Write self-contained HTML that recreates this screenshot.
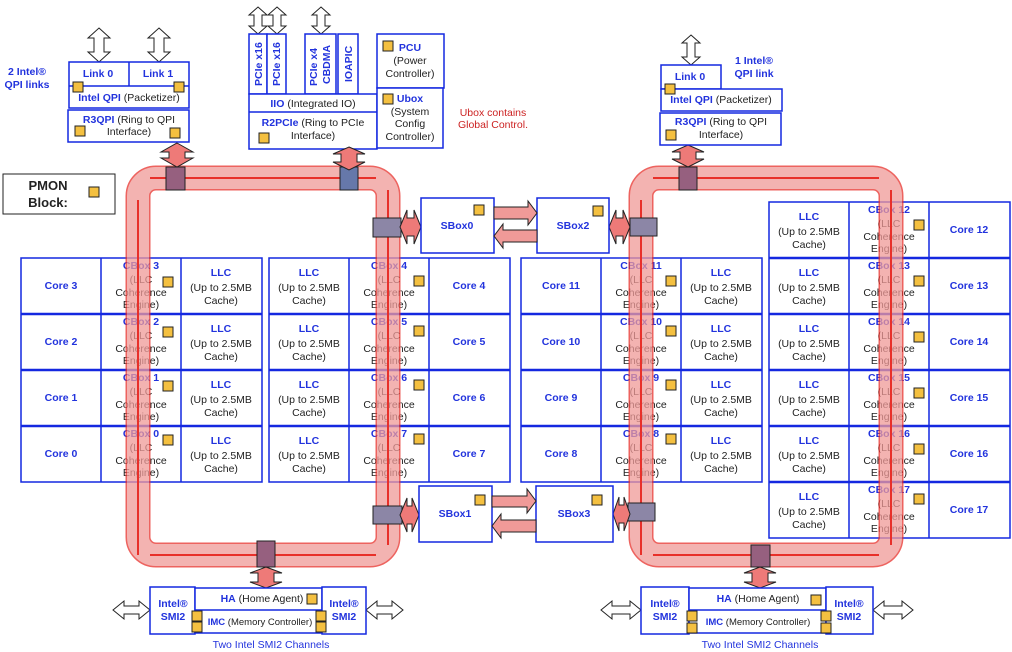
<!DOCTYPE html>
<html><head><meta charset="utf-8"><style>
html,body{margin:0;padding:0;background:#fff;width:1012px;height:652px;overflow:hidden}
svg text{font-family:"Liberation Sans",Arial,sans-serif;font-size:10.5px;fill:#222}
.b{fill:#2233dd;font-weight:bold}
.bl{fill:#2233dd}
.bx{fill:#fff;stroke:#1428e0;stroke-width:1.5}
.ln{stroke:#1428e0;stroke-width:1.5}
.thk{stroke:#1428e0;stroke-width:2.5}
.sq{fill:#f4c040;stroke:#222;stroke-width:1}
.ha{fill:#fff;stroke:#222;stroke-width:1}
.ra{fill:#ee7a78;stroke:#222;stroke-width:1}
.rs{fill:#96607f;stroke:#222;stroke-width:1}
.bs{fill:#6678aa;stroke:#222;stroke-width:1}
.gs{fill:#8c86a6;stroke:#222;stroke-width:1}
.sm{font-size:9.5px}
</style></head><body>
<svg width="1012" height="652" viewBox="0 0 1012 652" xmlns="http://www.w3.org/2000/svg">
<g text-anchor="middle">
<rect class="bx" x="21" y="258" width="241" height="224"/>
<line class="ln" x1="101" y1="258" x2="101" y2="482"/><line class="ln" x1="181" y1="258" x2="181" y2="482"/>
<line class="thk" x1="21" y1="314" x2="262" y2="314"/><line class="thk" x1="21" y1="370" x2="262" y2="370"/><line class="thk" x1="21" y1="426" x2="262" y2="426"/>
<rect class="bx" x="269" y="258" width="241" height="224"/>
<line class="ln" x1="349" y1="258" x2="349" y2="482"/><line class="ln" x1="429" y1="258" x2="429" y2="482"/>
<line class="thk" x1="269" y1="314" x2="510" y2="314"/><line class="thk" x1="269" y1="370" x2="510" y2="370"/><line class="thk" x1="269" y1="426" x2="510" y2="426"/>
<rect class="bx" x="521" y="258" width="241" height="224"/>
<line class="ln" x1="601" y1="258" x2="601" y2="482"/><line class="ln" x1="681" y1="258" x2="681" y2="482"/>
<line class="thk" x1="521" y1="314" x2="762" y2="314"/><line class="thk" x1="521" y1="370" x2="762" y2="370"/><line class="thk" x1="521" y1="426" x2="762" y2="426"/>
<rect class="bx" x="769" y="202" width="241" height="336"/>
<line class="ln" x1="849" y1="202" x2="849" y2="538"/><line class="ln" x1="929" y1="202" x2="929" y2="538"/>
<line class="thk" x1="769" y1="258" x2="1010" y2="258"/><line class="thk" x1="769" y1="314" x2="1010" y2="314"/><line class="thk" x1="769" y1="370" x2="1010" y2="370"/><line class="thk" x1="769" y1="426" x2="1010" y2="426"/><line class="thk" x1="769" y1="482" x2="1010" y2="482"/>

<g>
<text class="b" x="61" y="289">Core 3</text><text class="b" x="141" y="269">CBox 3</text><text x="141" y="283">(LLC</text><text x="141" y="296">Coherence</text><text x="141" y="308">Engine)</text><text class="b" x="221" y="276">LLC</text><text x="221" y="291">(Up to 2.5MB</text><text x="221" y="304">Cache)</text><rect class="sq" x="163" y="277" width="10" height="10"/>
<text class="b" x="61" y="345">Core 2</text><text class="b" x="141" y="325">CBox 2</text><text x="141" y="339">(LLC</text><text x="141" y="352">Coherence</text><text x="141" y="364">Engine)</text><text class="b" x="221" y="332">LLC</text><text x="221" y="347">(Up to 2.5MB</text><text x="221" y="360">Cache)</text><rect class="sq" x="163" y="327" width="10" height="10"/>
<text class="b" x="61" y="401">Core 1</text><text class="b" x="141" y="381">CBox 1</text><text x="141" y="395">(LLC</text><text x="141" y="408">Coherence</text><text x="141" y="420">Engine)</text><text class="b" x="221" y="388">LLC</text><text x="221" y="403">(Up to 2.5MB</text><text x="221" y="416">Cache)</text><rect class="sq" x="163" y="381" width="10" height="10"/>
<text class="b" x="61" y="457">Core 0</text><text class="b" x="141" y="437">CBox 0</text><text x="141" y="451">(LLC</text><text x="141" y="464">Coherence</text><text x="141" y="476">Engine)</text><text class="b" x="221" y="444">LLC</text><text x="221" y="459">(Up to 2.5MB</text><text x="221" y="472">Cache)</text><rect class="sq" x="163" y="435" width="10" height="10"/>
</g>
<g>
<text class="b" x="469" y="289">Core 4</text><text class="b" x="389" y="269">CBox 4</text><text x="389" y="283">(LLC</text><text x="389" y="296">Coherence</text><text x="389" y="308">Engine)</text><text class="b" x="309" y="276">LLC</text><text x="309" y="291">(Up to 2.5MB</text><text x="309" y="304">Cache)</text><rect class="sq" x="414" y="276" width="10" height="10"/>
<text class="b" x="469" y="345">Core 5</text><text class="b" x="389" y="325">CBox 5</text><text x="389" y="339">(LLC</text><text x="389" y="352">Coherence</text><text x="389" y="364">Engine)</text><text class="b" x="309" y="332">LLC</text><text x="309" y="347">(Up to 2.5MB</text><text x="309" y="360">Cache)</text><rect class="sq" x="414" y="326" width="10" height="10"/>
<text class="b" x="469" y="401">Core 6</text><text class="b" x="389" y="381">CBox 6</text><text x="389" y="395">(LLC</text><text x="389" y="408">Coherence</text><text x="389" y="420">Engine)</text><text class="b" x="309" y="388">LLC</text><text x="309" y="403">(Up to 2.5MB</text><text x="309" y="416">Cache)</text><rect class="sq" x="414" y="380" width="10" height="10"/>
<text class="b" x="469" y="457">Core 7</text><text class="b" x="389" y="437">CBox 7</text><text x="389" y="451">(LLC</text><text x="389" y="464">Coherence</text><text x="389" y="476">Engine)</text><text class="b" x="309" y="444">LLC</text><text x="309" y="459">(Up to 2.5MB</text><text x="309" y="472">Cache)</text><rect class="sq" x="414" y="434" width="10" height="10"/>
</g>
<g>
<text class="b" x="561" y="289">Core 11</text><text class="b" x="641" y="269">CBox 11</text><text x="641" y="283">(LLC</text><text x="641" y="296">Coherence</text><text x="641" y="308">Engine)</text><text class="b" x="721" y="276">LLC</text><text x="721" y="291">(Up to 2.5MB</text><text x="721" y="304">Cache)</text><rect class="sq" x="666" y="276" width="10" height="10"/>
<text class="b" x="561" y="345">Core 10</text><text class="b" x="641" y="325">CBox 10</text><text x="641" y="339">(LLC</text><text x="641" y="352">Coherence</text><text x="641" y="364">Engine)</text><text class="b" x="721" y="332">LLC</text><text x="721" y="347">(Up to 2.5MB</text><text x="721" y="360">Cache)</text><rect class="sq" x="666" y="326" width="10" height="10"/>
<text class="b" x="561" y="401">Core 9</text><text class="b" x="641" y="381">CBox 9</text><text x="641" y="395">(LLC</text><text x="641" y="408">Coherence</text><text x="641" y="420">Engine)</text><text class="b" x="721" y="388">LLC</text><text x="721" y="403">(Up to 2.5MB</text><text x="721" y="416">Cache)</text><rect class="sq" x="666" y="380" width="10" height="10"/>
<text class="b" x="561" y="457">Core 8</text><text class="b" x="641" y="437">CBox 8</text><text x="641" y="451">(LLC</text><text x="641" y="464">Coherence</text><text x="641" y="476">Engine)</text><text class="b" x="721" y="444">LLC</text><text x="721" y="459">(Up to 2.5MB</text><text x="721" y="472">Cache)</text><rect class="sq" x="666" y="434" width="10" height="10"/>
</g>
<g>
<text class="b" x="969" y="233">Core 12</text><text class="b" x="889" y="213">CBox 12</text><text x="889" y="227">(LLC</text><text x="889" y="240">Coherence</text><text x="889" y="252">Engine)</text><text class="b" x="809" y="220">LLC</text><text x="809" y="235">(Up to 2.5MB</text><text x="809" y="248">Cache)</text><rect class="sq" x="914" y="220" width="10" height="10"/>
<text class="b" x="969" y="289">Core 13</text><text class="b" x="889" y="269">CBox 13</text><text x="889" y="283">(LLC</text><text x="889" y="296">Coherence</text><text x="889" y="308">Engine)</text><text class="b" x="809" y="276">LLC</text><text x="809" y="291">(Up to 2.5MB</text><text x="809" y="304">Cache)</text><rect class="sq" x="914" y="276" width="10" height="10"/>
<text class="b" x="969" y="345">Core 14</text><text class="b" x="889" y="325">CBox 14</text><text x="889" y="339">(LLC</text><text x="889" y="352">Coherence</text><text x="889" y="364">Engine)</text><text class="b" x="809" y="332">LLC</text><text x="809" y="347">(Up to 2.5MB</text><text x="809" y="360">Cache)</text><rect class="sq" x="914" y="332" width="10" height="10"/>
<text class="b" x="969" y="401">Core 15</text><text class="b" x="889" y="381">CBox 15</text><text x="889" y="395">(LLC</text><text x="889" y="408">Coherence</text><text x="889" y="420">Engine)</text><text class="b" x="809" y="388">LLC</text><text x="809" y="403">(Up to 2.5MB</text><text x="809" y="416">Cache)</text><rect class="sq" x="914" y="388" width="10" height="10"/>
<text class="b" x="969" y="457">Core 16</text><text class="b" x="889" y="437">CBox 16</text><text x="889" y="451">(LLC</text><text x="889" y="464">Coherence</text><text x="889" y="476">Engine)</text><text class="b" x="809" y="444">LLC</text><text x="809" y="459">(Up to 2.5MB</text><text x="809" y="472">Cache)</text><rect class="sq" x="914" y="444" width="10" height="10"/>
<text class="b" x="969" y="513">Core 17</text><text class="b" x="889" y="493">CBox 17</text><text x="889" y="507">(LLC</text><text x="889" y="520">Coherence</text><text x="889" y="532">Engine)</text><text class="b" x="809" y="500">LLC</text><text x="809" y="515">(Up to 2.5MB</text><text x="809" y="528">Cache)</text><rect class="sq" x="914" y="494" width="10" height="10"/>
</g>
</g>

<g fill="none" opacity="0.75">
<rect x="138" y="178" width="250" height="377" rx="18" stroke="#e8302a" stroke-width="25"/>
<rect x="138" y="178" width="250" height="377" rx="18" stroke="#f09a98" stroke-width="22"/>
<rect x="641" y="178" width="250" height="377" rx="18" stroke="#e8302a" stroke-width="25"/>
<rect x="641" y="178" width="250" height="377" rx="18" stroke="#f09a98" stroke-width="22"/>
</g>
<g fill="none" stroke="#e8302a" stroke-width="2">
<line x1="138" y1="200" x2="138" y2="555"/><line x1="388" y1="190" x2="388" y2="545"/>
<line x1="150" y1="178" x2="376" y2="178"/><line x1="150" y1="555" x2="376" y2="555"/>
<line x1="641" y1="200" x2="641" y2="555"/><line x1="891" y1="190" x2="891" y2="545"/>
<line x1="653" y1="178" x2="879" y2="178"/><line x1="653" y1="555" x2="879" y2="555"/>
</g>
<rect class="rs" x="166" y="167" width="19" height="23"/>
<rect class="bs" x="340" y="167" width="18" height="23"/>
<rect class="gs" x="373" y="218" width="28" height="19"/>
<rect class="gs" x="373" y="506" width="29" height="18"/>
<rect class="rs" x="257" y="541" width="18" height="26"/>
<rect class="rs" x="679" y="167" width="18" height="23"/>
<rect class="gs" x="630" y="218" width="27" height="18"/>
<rect class="gs" x="628" y="503" width="27" height="18"/>
<rect class="rs" x="751" y="545" width="19" height="22"/>

<polygon class="ha" points="99,28 110,38 104,38 104,52 110,52 99,62 88,52 94,52 94,38 88,38"/>
<polygon class="ha" points="159,28 170,38 164,38 164,52 170,52 159,62 148,52 154,52 154,38 148,38"/>
<rect class="bx" x="69" y="62" width="120" height="46"/>
<line class="ln" x1="129" y1="62" x2="129" y2="86"/><line class="ln" x1="69" y1="86" x2="189" y2="86"/>
<text class="b" x="98" y="77" text-anchor="middle">Link 0</text><text class="b" x="158" y="77" text-anchor="middle">Link 1</text>
<rect class="sq" x="73" y="82" width="10" height="10"/><rect class="sq" x="174" y="82" width="10" height="10"/>
<text x="129" y="101" text-anchor="middle"><tspan class="b">Intel QPI</tspan> (Packetizer)</text>
<rect class="bx" x="68" y="110" width="121" height="32"/>
<text x="129" y="123" text-anchor="middle"><tspan class="b">R3QPI</tspan> (Ring to QPI</text>
<text x="129" y="135" text-anchor="middle">Interface)</text>
<rect class="sq" x="75" y="126" width="10" height="10"/><rect class="sq" x="170" y="128" width="10" height="10"/>
<text class="b" x="27" y="75" text-anchor="middle">2  Intel®</text><text class="b" x="27" y="88" text-anchor="middle">QPI links</text>

<polygon class="ha" points="258,7 267,15 262,15 262,26 267,26 258,34 249,26 254,26 254,15 249,15"/>
<polygon class="ha" points="277,7 286,15 281,15 281,26 286,26 277,34 268,26 273,26 273,15 268,15"/>
<polygon class="ha" points="321,7 330,15 325,15 325,26 330,26 321,34 312,26 317,26 317,15 312,15"/>
<rect class="bx" x="249" y="34" width="18" height="60"/><rect class="bx" x="267" y="34" width="19" height="60"/>
<rect class="bx" x="305" y="34" width="31" height="60"/><rect class="bx" x="338" y="34" width="20" height="60"/>
<text class="b" transform="translate(262,86) rotate(-90)">PCIe x16</text>
<text class="b" transform="translate(280,86) rotate(-90)">PCIe x16</text>
<text class="b" transform="translate(317,86) rotate(-90)">PCIe x4</text>
<text class="b" transform="translate(330,84) rotate(-90)">CBDMA</text>
<text class="b" transform="translate(352,82) rotate(-90)">IOAPIC</text>
<rect class="bx" x="249" y="94" width="128" height="55"/>
<line class="ln" x1="249" y1="112" x2="377" y2="112"/>
<text x="313" y="107" text-anchor="middle"><tspan class="b">IIO</tspan> (Integrated IO)</text>
<text x="313" y="126" text-anchor="middle"><tspan class="b">R2PCIe</tspan> (Ring to PCIe</text>
<text x="313" y="139" text-anchor="middle">Interface)</text>
<rect class="sq" x="259" y="133" width="10" height="10"/>
<rect class="bx" x="377" y="34" width="67" height="54"/>
<rect class="sq" x="383" y="41" width="10" height="10"/>
<text class="b" x="410" y="51" text-anchor="middle">PCU</text>
<text x="410" y="64" text-anchor="middle">(Power</text><text x="410" y="77" text-anchor="middle">Controller)</text>
<rect class="bx" x="377" y="88" width="66" height="60"/>
<rect class="sq" x="383" y="94" width="10" height="10"/>
<text class="b" x="410" y="102" text-anchor="middle">Ubox</text>
<text x="410" y="115" text-anchor="middle">(System</text><text x="410" y="127" text-anchor="middle">Config</text><text x="410" y="140" text-anchor="middle">Controller)</text>
<text x="493" y="116" text-anchor="middle" style="fill:#cc2222">Ubox contains</text>
<text x="493" y="128" text-anchor="middle" style="fill:#cc2222">Global Control.</text>

<rect x="3" y="174" width="112" height="40" fill="#fff" stroke="#222" stroke-width="1"/>
<text x="48" y="190" text-anchor="middle" style="font-weight:bold;font-size:13px">PMON</text>
<text x="48" y="207" text-anchor="middle" style="font-weight:bold;font-size:13px">Block:</text>
<rect class="sq" x="89" y="187" width="10" height="10"/>

<polygon class="ra" points="177,143 193,152 185,152 185,158 193,158 177,167 161,158 169,158 169,152 161,152"/>
<polygon class="ra" points="349,147 365,154 357,154 357,162 365,162 349,170 333,162 341,162 341,154 333,154"/>
<polygon class="ra" points="688,145 704,152 696,152 696,159 704,159 688,167 672,159 680,159 680,152 672,152"/>
<polygon class="ra" points="266,567 282,573 274,573 274,582 282,582 266,588 250,582 258,582 258,573 250,573"/>
<polygon class="ra" points="760,567 776,573 768,573 768,582 776,582 760,588 744,582 752,582 752,573 744,573"/>
<polygon class="ra" points="400,227 407,210 407,218 414,218 414,210 421,227 414,244 414,236 407,236 407,244"/>
<polygon class="ra" points="609,227 616,210 616,218 623,218 623,210 630,227 623,244 623,236 616,236 616,244"/>
<polygon class="ra" points="400,515 407,498 407,506 412,506 412,498 419,515 412,532 412,524 407,524 407,532"/>
<polygon class="ra" points="613,514 619,497 619,505 624,505 624,497 630,514 624,531 624,523 619,523 619,531"/>
<rect class="bx" x="421" y="198" width="73" height="55"/><text class="b" x="457" y="229" text-anchor="middle">SBox0</text><rect class="sq" x="474" y="205" width="10" height="10"/>
<rect class="bx" x="537" y="198" width="72" height="55"/><text class="b" x="573" y="229" text-anchor="middle">SBox2</text><rect class="sq" x="593" y="206" width="10" height="10"/>
<rect class="bx" x="419" y="486" width="73" height="56"/><text class="b" x="455" y="517" text-anchor="middle">SBox1</text><rect class="sq" x="475" y="495" width="10" height="10"/>
<rect class="bx" x="536" y="486" width="77" height="56"/><text class="b" x="574" y="517" text-anchor="middle">SBox3</text><rect class="sq" x="592" y="495" width="10" height="10"/>
<polygon points="494,207 528,207 528,201 537,213 528,225 528,219 494,219" fill="#f09a98" stroke="#222" stroke-width="1"/>
<polygon points="537,230 503,230 503,224 494,236 503,248 503,242 537,242" fill="#f09a98" stroke="#222" stroke-width="1"/>
<polygon points="492,496 527,496 527,489 536,501 527,513 527,507 492,507" fill="#f09a98" stroke="#222" stroke-width="1"/>
<polygon points="536,520 501,520 501,514 492,526 501,538 501,532 536,532" fill="#f09a98" stroke="#222" stroke-width="1"/>

<polygon class="ha" points="691,35 700,43 695,43 695,57 700,57 691,65 682,57 687,57 687,43 682,43"/>
<rect class="bx" x="661" y="65" width="60" height="24"/>
<text class="b" x="690" y="80" text-anchor="middle">Link 0</text>
<rect class="bx" x="661" y="89" width="121" height="22"/>
<rect class="sq" x="665" y="84" width="10" height="10"/>
<text x="721" y="103" text-anchor="middle"><tspan class="b">Intel QPI</tspan> (Packetizer)</text>
<rect class="bx" x="660" y="113" width="121" height="32"/>
<text x="721" y="125" text-anchor="middle"><tspan class="b">R3QPI</tspan> (Ring to QPI</text>
<text x="721" y="138" text-anchor="middle">Interface)</text>
<rect class="sq" x="666" y="130" width="10" height="10"/>
<text class="b" x="754" y="64" text-anchor="middle">1  Intel®</text><text class="b" x="754" y="77" text-anchor="middle">QPI link</text>

<polygon class="ha" points="113,610 124,601 124,606 139,606 139,601 150,610 139,619 139,614 124,614 124,619"/>
<polygon class="ha" points="366,610 377,601 377,606 392,606 392,601 403,610 392,619 392,614 377,614 377,619"/>
<rect class="bx" x="150" y="587" width="45" height="47"/>
<text class="b" x="173" y="607" text-anchor="middle">Intel®</text><text class="b" x="173" y="620" text-anchor="middle">SMI2</text>
<rect class="bx" x="195" y="588" width="127" height="45"/><line class="ln" x1="195" y1="610" x2="322" y2="610"/>
<text x="262" y="602" text-anchor="middle"><tspan class="b">HA</tspan>    (Home Agent)</text>
<text class="sm" x="260" y="625" text-anchor="middle"><tspan class="b">IMC</tspan> (Memory Controller)</text>
<rect class="sq" x="307" y="594" width="10" height="10"/>
<rect class="bx" x="322" y="587" width="44" height="47"/>
<text class="b" x="344" y="607" text-anchor="middle">Intel®</text><text class="b" x="344" y="620" text-anchor="middle">SMI2</text>
<rect class="sq" x="192" y="611" width="10" height="10"/><rect class="sq" x="192" y="622" width="10" height="10"/>
<rect class="sq" x="316" y="611" width="10" height="10"/><rect class="sq" x="316" y="622" width="10" height="10"/>
<text class="bl" x="271" y="648" text-anchor="middle">Two Intel SMI2 Channels</text>

<polygon class="ha" points="601,610 612,601 612,606 630,606 630,601 641,610 630,619 630,614 612,614 612,619"/>
<polygon class="ha" points="873,610 884,601 884,606 902,606 902,601 913,610 902,619 902,614 884,614 884,619"/>
<rect class="bx" x="641" y="587" width="48" height="47"/>
<text class="b" x="665" y="607" text-anchor="middle">Intel®</text><text class="b" x="665" y="620" text-anchor="middle">SMI2</text>
<rect class="bx" x="689" y="588" width="137" height="45"/><line class="ln" x1="689" y1="610" x2="826" y2="610"/>
<text x="758" y="602" text-anchor="middle"><tspan class="b">HA</tspan>    (Home Agent)</text>
<text class="sm" x="758" y="625" text-anchor="middle"><tspan class="b">IMC</tspan> (Memory Controller)</text>
<rect class="sq" x="811" y="595" width="10" height="10"/>
<rect class="bx" x="826" y="587" width="47" height="47"/>
<text class="b" x="849" y="607" text-anchor="middle">Intel®</text><text class="b" x="849" y="620" text-anchor="middle">SMI2</text>
<rect class="sq" x="687" y="611" width="10" height="10"/><rect class="sq" x="687" y="623" width="10" height="10"/>
<rect class="sq" x="821" y="611" width="10" height="10"/><rect class="sq" x="821" y="623" width="10" height="10"/>
<text class="bl" x="760" y="648" text-anchor="middle">Two Intel SMI2 Channels</text>
</svg>
</body></html>
